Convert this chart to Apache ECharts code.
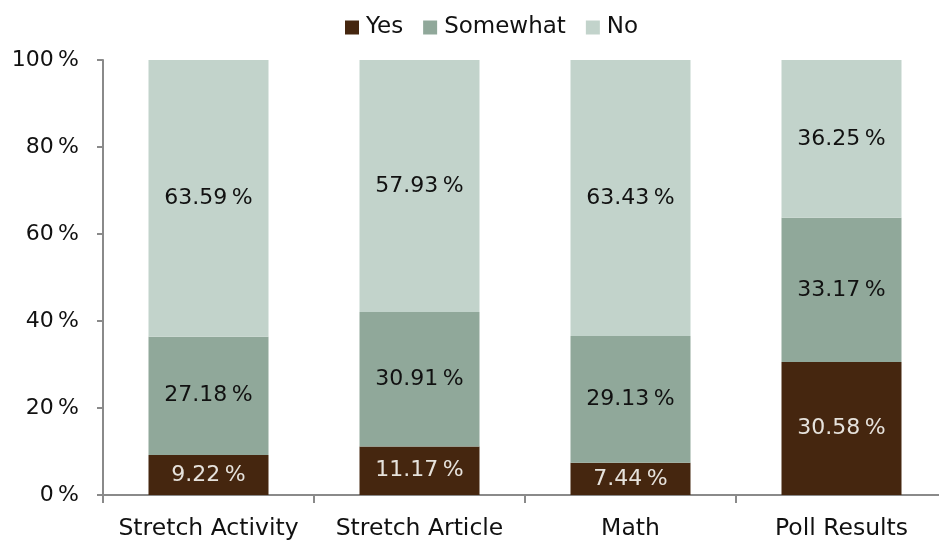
<!DOCTYPE html>
<html>
<head>
<meta charset="utf-8">
<script src="https://cdn.jsdelivr.net/npm/echarts@6/dist/echarts.min.js"></script>
<style>
  html, body { margin: 0; padding: 0; background: #fff; overflow: hidden; }
  #chart { width: 947px; height: 542px; }
</style>
</head>
<body>
<div id="chart"></div>
<script>
const categories = ['Stretch Activity', 'Stretch Article', 'Math', 'Poll Results'];
const yesValues = [9.22, 11.17, 7.44, 30.58];
const somewhatValues = [27.18, 30.91, 29.13, 33.17];
const noValues = [63.59, 57.93, 63.43, 36.25];
const yTicks = [0, 20, 40, 60, 80, 100];

const FONT = '"DejaVu Sans", "Liberation Sans", sans-serif';
const pct = v => v.toFixed(2) + '\u2009%';

function stackSeries(name, data, color, labelColor) {
  return {
    name: name,
    type: 'bar',
    stack: 'total',
    data: data,
    barWidth: 120,
    itemStyle: { color: color },
    label: {
      show: true,
      position: 'inside',
      color: labelColor,
      fontFamily: FONT,
      fontSize: 22,
      formatter: p => pct(p.value)
    }
  };
}

const chart = echarts.init(document.getElementById('chart'));
chart.setOption({
  animation: false,
  textStyle: { fontFamily: FONT },
  legend: {
    top: 11,
    left: 340,
    itemWidth: 14,
    itemHeight: 14,
    itemGap: 20,
    icon: 'rect',
    textStyle: { fontFamily: FONT, fontSize: 23, color: '#111', padding: [0, 0, 0, 2] },
    data: ['Yes', 'Somewhat', 'No']
  },
  grid: { left: 103, top: 60, right: 0, height: 435, containLabel: false },
  xAxis: {
    type: 'category',
    data: categories,
    axisLine: { lineStyle: { color: '#8a8a8a', width: 2 } },
    axisTick: { show: true, interval: 0, length: 8, lineStyle: { color: '#8a8a8a', width: 2 } },
    axisLabel: { interval: 0, fontFamily: FONT, fontSize: 23.5, color: '#111', margin: 22 }
  },
  yAxis: {
    type: 'value',
    min: 0,
    max: 100,
    interval: 20,
    axisLine: { show: true, lineStyle: { color: '#8a8a8a', width: 2 } },
    axisTick: { show: true, length: 6, lineStyle: { color: '#8a8a8a', width: 2 } },
    splitLine: { show: false },
    axisLabel: {
      fontFamily: FONT, fontSize: 22, color: '#111', margin: 24,
      formatter: v => (yTicks.indexOf(v) >= 0 ? v + '\u2009%' : '')
    }
  },
  series: [
    stackSeries('Yes', yesValues, '#45260f', '#e6e2dc'),
    stackSeries('Somewhat', somewhatValues, '#90a89a', '#111'),
    stackSeries('No', noValues, '#c2d3cb', '#111')
  ]
});
</script>
</body>
</html>
